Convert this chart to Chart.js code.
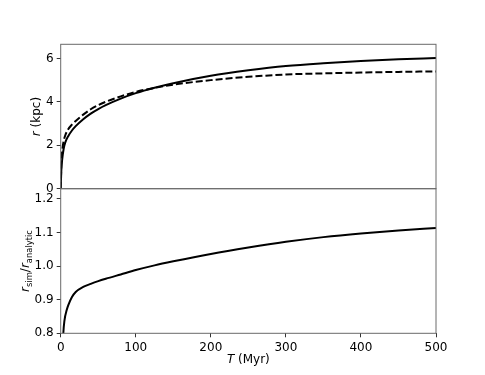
<!DOCTYPE html>
<html>
<head>
<meta charset="utf-8">
<script src="https://cdn.jsdelivr.net/npm/chart.js@4.4.1/dist/chart.umd.min.js"></script>
<style>
html, body { margin: 0; padding: 0; background: #fff; }
#wrap { position: relative; width: 485px; height: 375px; }
canvas { position: absolute; left: 0; top: 0; }
</style>
</head>
<body>
<div id="wrap">
  <canvas id="topChart" width="485" height="375"></canvas>
  <canvas id="bottomChart" width="485" height="375"></canvas>
</div>
<script>
// time in Myr
const tValues = [0, 1, 2, 4, 6, 10, 15, 20, 30, 40, 50, 60, 80, 100, 125, 150, 200, 250, 300, 350, 400, 450, 500];
// simulated radius (solid) and analytic radius (dashed), kpc
const rSim      = [0, 0.95, 1.35, 1.85, 2.12, 2.42, 2.68, 2.88, 3.2, 3.46, 3.67, 3.85, 4.15, 4.4, 4.65, 4.86, 5.2, 5.45, 5.65, 5.78, 5.88, 5.96, 6.02];
const rAnalytic = [0, 1.3, 1.75, 2.2, 2.45, 2.74, 2.95, 3.12, 3.41, 3.66, 3.85, 4.0, 4.25, 4.46, 4.64, 4.79, 5.0, 5.15, 5.26, 5.31, 5.35, 5.38, 5.4];
// ratio panel
const tRatio = [2, 3.5, 5, 8, 10, 15, 20, 30, 40, 50, 60, 80, 100, 125, 150, 200, 250, 300, 350, 400, 450, 500];
const ratio  = [0.7, 0.8, 0.838, 0.869, 0.883, 0.908, 0.923, 0.938, 0.947, 0.955, 0.962, 0.975, 0.988, 1.002, 1.014, 1.036, 1.055, 1.072, 1.086, 1.097, 1.106, 1.113];
const rTicks = [0, 2, 4, 6];
const ratioTicks = [0.8, 0.9, 1.0, 1.1, 1.2];
const tTicks = [0, 100, 200, 300, 400, 500];

const FONT = "'DejaVu Sans', sans-serif";
const plotLeft = 60.7, plotRight = 436, topY = 44.3, midY = 188.7, bottomY = 333.3;

const toPoints = (xs, ys) => xs.map((x, i) => ({ x: x, y: ys[i] }));

// draws a string made of several runs (mixed italic / subscript) centred on cx, cy
function drawRuns(ctx, runs, cx, cy, rotated) {
    ctx.save();
    ctx.translate(cx, cy);
    if (rotated) ctx.rotate(-Math.PI / 2);
    ctx.fillStyle = '#000';
    ctx.textBaseline = 'alphabetic';
    ctx.textAlign = 'left';
    let total = 0;
    runs.forEach(r => { ctx.font = r.font; r.w = ctx.measureText(r.text).width; total += r.w; });
    let x = -total / 2;
    runs.forEach(r => {
        ctx.font = r.font;
        ctx.fillText(r.text, x, r.dy || 0);
        x += r.w;
    });
    ctx.restore();
}

const framePlugin = {
    id: 'frame',
    afterDraw(chart) {
        const { ctx, chartArea: a } = chart;
        ctx.save();
        ctx.strokeStyle = '#6a6a6a';
        ctx.lineWidth = 1;
        ctx.strokeRect(a.left, a.top, a.right - a.left, a.bottom - a.top);
        ctx.restore();
    }
};

const reg = '12px ' + FONT;
const ital = 'italic 12px ' + FONT;
const small = '8.4px ' + FONT;

const titlePlugin = {
    id: 'titles',
    afterDraw(chart) {
        const ctx = chart.ctx;
        if (chart.canvas.id === 'topChart') {
            drawRuns(ctx, [{ text: 'r', font: ital }, { text: ' (kpc)', font: reg }], 39.5, 116.5, true);
        } else {
            drawRuns(ctx, [
                { text: 'r', font: ital },
                { text: 'sim', font: small, dy: 3 },
                { text: '/', font: reg },
                { text: 'r', font: ital },
                { text: 'analytic', font: small, dy: 3 }
            ], 29, 261, true);
            drawRuns(ctx, [{ text: 'T', font: ital }, { text: ' (Myr)', font: reg }], (plotLeft + plotRight) / 2, 363, false);
        }
    }
};

function yScale(min, max, ticks, fmt) {
    return {
        type: 'linear',
        min: min,
        max: max,
        afterFit: s => { s.width = plotLeft; },
        afterBuildTicks: s => { s.ticks = ticks.map(v => ({ value: v })); },
        grid: { drawOnChartArea: false, tickLength: 4, tickColor: '#333', tickWidth: 1 },
        border: { display: false },
        ticks: { color: '#000', padding: 3, font: { family: FONT, size: 12 }, callback: fmt }
    };
}

function xScale(show) {
    return {
        type: 'linear',
        min: 0,
        max: 500,
        display: show,
        afterFit: s => { s.height = show ? 375 - bottomY : 0; },
        afterBuildTicks: s => { s.ticks = tTicks.map(v => ({ value: v })); },
        grid: { drawOnChartArea: false, tickLength: 4, tickColor: '#333', tickWidth: 1 },
        border: { display: false },
        ticks: { color: '#000', padding: 3, maxRotation: 0, font: { family: FONT, size: 12 } }
    };
}

const common = {
    responsive: false,
    animation: false,
    events: [],
    plugins: { legend: { display: false }, tooltip: { enabled: false } },
    elements: { point: { radius: 0 } }
};

new Chart(document.getElementById('topChart').getContext('2d'), {
    type: 'line',
    data: {
        datasets: [{
            label: 'simulation',
            data: toPoints(tValues, rSim),
            borderColor: '#000',
            borderWidth: 2,
            cubicInterpolationMode: 'monotone'
        }, {
            label: 'analytic',
            data: toPoints(tValues, rAnalytic),
            borderColor: '#000',
            borderWidth: 2,
            borderDash: [7, 3],
            cubicInterpolationMode: 'monotone'
        }]
    },
    options: Object.assign({}, common, {
        layout: { padding: { left: 0, top: topY, right: 485 - plotRight, bottom: 375 - midY } },
        scales: {
            x: xScale(false),
            y: yScale(0, 6.65, rTicks, v => String(v))
        }
    }),
    plugins: [framePlugin, titlePlugin]
});

new Chart(document.getElementById('bottomChart').getContext('2d'), {
    type: 'line',
    data: {
        datasets: [{
            label: 'ratio',
            data: toPoints(tRatio, ratio),
            borderColor: '#000',
            borderWidth: 2,
            cubicInterpolationMode: 'monotone'
        }]
    },
    options: Object.assign({}, common, {
        layout: { padding: { left: 0, top: midY, right: 485 - plotRight, bottom: 0 } },
        scales: {
            x: xScale(true),
            y: yScale(0.8, 1.23, ratioTicks, v => Number(v).toFixed(1))
        }
    }),
    plugins: [framePlugin, titlePlugin]
});
</script>
</body>
</html>
